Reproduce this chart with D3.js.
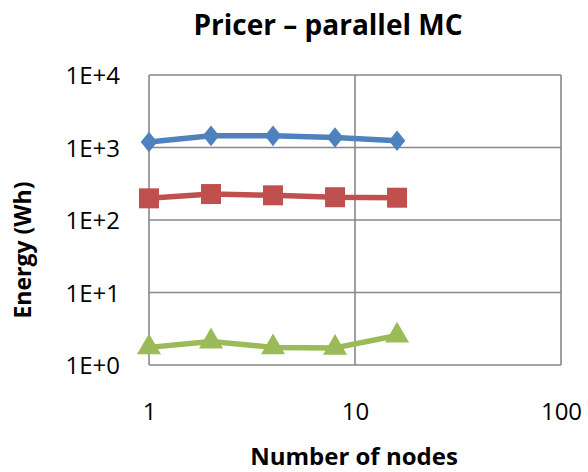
<!DOCTYPE html>
<html>
<head>
<meta charset="utf-8">
<script src="https://cdn.jsdelivr.net/npm/d3@7"></script>
<style>
  html, body { margin: 0; padding: 0; background: #fff; }
  svg { display: block; }
  text { font-family: "Open Sans", "Noto Sans", sans-serif; fill: #000; }
</style>
</head>
<body>
<svg id="chart" width="588" height="472"></svg>
<script>
// Number of nodes used for each run
const nodes = [1, 2, 4, 8, 16];

// Energy per run (Wh) for the three configurations
const seriesBlue  = [1190, 1450, 1450, 1375, 1240];
const seriesRed   = [199, 228, 219, 206, 203];
const seriesGreen = [1.75, 2.11, 1.75, 1.72, 2.55];

// Axis ticks
const xTicks = [1, 10, 100];
const yTicks = [1, 10, 100, 1000, 10000];
const yTickLabels = ["1E+0", "1E+1", "1E+2", "1E+3", "1E+4"];

const svg = d3.select("#chart");
const plot = { left: 149, right: 561, top: 75, bottom: 365 };

const x = d3.scaleLog().domain([1, 100]).range([plot.left, plot.right]);
const y = d3.scaleLog().domain([1, 10000]).range([plot.bottom, plot.top]);

const gridColor = "#888888";

// Grid lines and frame
const grid = svg.append("g");
grid.selectAll("line.h").data(yTicks).join("line")
  .attr("x1", plot.left).attr("x2", plot.right)
  .attr("y1", d => y(d)).attr("y2", d => y(d))
  .attr("stroke", gridColor).attr("stroke-width", 1.6);
grid.selectAll("line.v").data(xTicks).join("line")
  .attr("y1", plot.top).attr("y2", plot.bottom)
  .attr("x1", d => x(d)).attr("x2", d => x(d))
  .attr("stroke", gridColor).attr("stroke-width", 1.6);

// Y axis labels
const yAxis = d3.axisLeft(y).tickValues(yTicks)
  .tickFormat((d, i) => yTickLabels[i]).tickSize(0).tickPadding(29);
const gy = svg.append("g").attr("transform", `translate(${plot.left},0)`).call(yAxis);
gy.select(".domain").remove();
gy.selectAll("text").attr("font-size", 24).attr("font-family", "Open Sans").attr("fill", "#000").attr("dy", "0.36em");

// X axis labels
const xAxis = d3.axisBottom(x).tickValues(xTicks).tickFormat(d3.format("d")).tickSize(0).tickPadding(38);
const gx = svg.append("g").attr("transform", `translate(0,${plot.bottom})`).call(xAxis);
gx.select(".domain").remove();
gx.selectAll("text").attr("font-size", 24).attr("font-family", "Open Sans").attr("fill", "#000");

// Titles
svg.append("text").attr("x", 328).attr("y", 35).attr("text-anchor", "middle")
  .attr("font-size", 28).attr("font-weight", "bold").text("Pricer \u2013 parallel MC");
svg.append("text").attr("x", 354).attr("y", 465).attr("text-anchor", "middle")
  .attr("font-size", 24).attr("font-weight", "bold").text("Number of nodes");
svg.append("text").attr("transform", "translate(31,250) rotate(-90)").attr("text-anchor", "middle")
  .attr("font-size", 23).attr("font-weight", "bold").text("Energy (Wh)");

// Series
const diamond = {
  draw(ctx, size) {
    const r = Math.sqrt(size / 2);
    ctx.moveTo(0, -r * 1.12);
    ctx.lineTo(r * 0.9, 0);
    ctx.lineTo(0, r * 1.12);
    ctx.lineTo(-r * 0.9, 0);
    ctx.closePath();
  }
};
const series = [
  { values: seriesBlue,  color: "#4F81BD", symbol: diamond,           size: 170 },
  { values: seriesRed,   color: "#C0504D", symbol: d3.symbolSquare,   size: 400 },
  { values: seriesGreen, color: "#9BBB59", symbol: d3.symbolTriangle, size: 250 }
];

const line = d3.line().x(d => x(d[0])).y(d => y(d[1]));

series.forEach(s => {
  const pts = nodes.map((n, i) => [n, s.values[i]]);
  svg.append("path").datum(pts).attr("d", line)
    .attr("fill", "none").attr("stroke", s.color).attr("stroke-width", 5.5)
    .attr("stroke-linejoin", "round");
  svg.append("g").selectAll("path").data(pts).join("path")
    .attr("transform", d => `translate(${x(d[0])},${y(d[1])})`)
    .attr("d", d3.symbol().type(s.symbol).size(s.size))
    .attr("fill", s.color);
});
</script>
</body>
</html>
